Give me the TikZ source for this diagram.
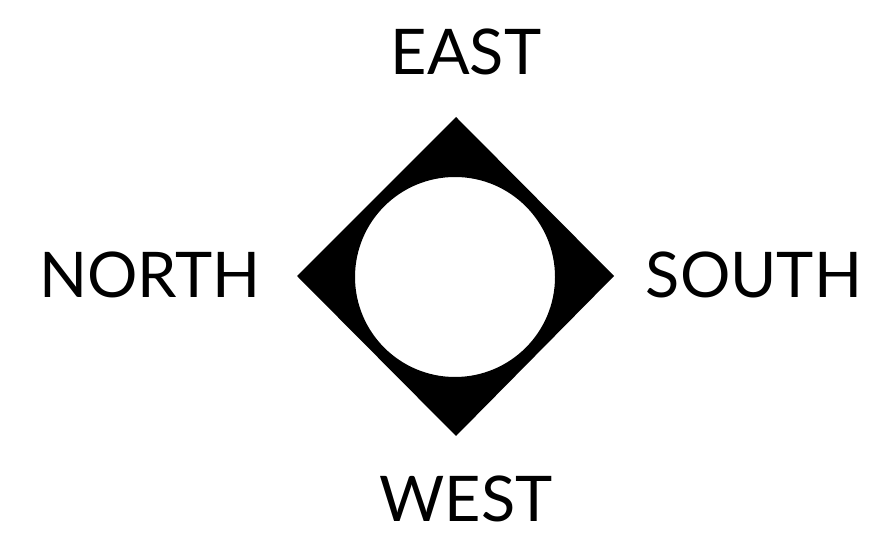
\documentclass[tikz,border=0pt]{standalone}
\usepackage{fontspec}
\setmainfont{Lato}
\tikzset{
  compasslabel/.style={anchor=base, inner sep=0pt, font=\fontsize{63}{68}\selectfont},
}
\begin{document}
\begin{tikzpicture}[x=1pt,y=1pt]
  \useasboundingbox (0,0) rectangle (880,535);
  \coordinate (c) at (456,259);
  % diamond with round hole
  \fill[black, even odd rule] (456,418) -- (614,259) -- (456,99) -- (297,259) -- cycle
    (455,258) circle (100);
  \node[compasslabel] (east) at (466,460) {EAST};
  \node[compasslabel] (north) at (150,237) {NORTH};
  \node[compasslabel] (south) at (754,237) {SOUTH};
  \node[compasslabel] (west) at (466,13) {WEST};
\end{tikzpicture}
\end{document}
